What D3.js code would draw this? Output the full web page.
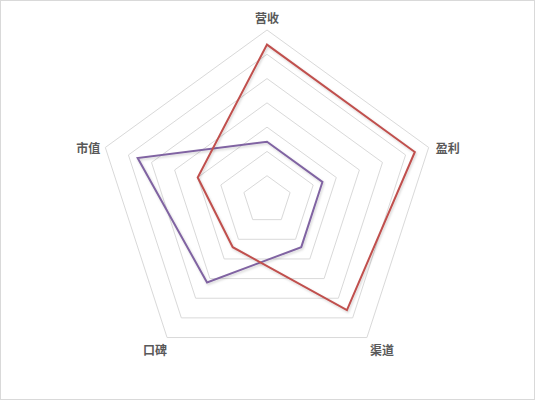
<!DOCTYPE html>
<html><head><meta charset="utf-8">
<script src="https://cdn.jsdelivr.net/npm/d3@7"></script>
<style>
html,body{margin:0;padding:0;background:#fff;}
svg{display:block;}
</style></head>
<body>
<svg id="c" width="535" height="401"></svg>
<script>
const categories = ["营收", "盈利", "渠道", "口碑", "市值"];
const seriesA = [32, 32, 28, 12, 15];   // red
const seriesB = [12, 12, 12, 21, 28];   // purple
const ticks = [5, 10, 15, 20, 25, 30, 35];

const W = 535, H = 401, cx = 267, cy = 200, R = 170;
const svg = d3.select("#c");
svg.append("rect").attr("x",0.5).attr("y",0.5).attr("width",W-1).attr("height",H-2)
  .attr("fill","#fff").attr("stroke","#d9d9d9");

const r = d3.scaleLinear().domain([0, 35]).range([0, R]);
const ang = d3.scalePoint().domain(categories).range([0, 2*Math.PI*(4/5)]);
const pt = (c, v) => { const a = ang(c); return [cx + r(v)*Math.sin(a), cy - r(v)*Math.cos(a)]; };

const g = svg.append("g");
ticks.forEach(t => {
  g.append("path")
    .attr("d", d3.line()(categories.map(c => pt(c, t))) + "Z")
    .attr("fill","none").attr("stroke","#d9d9d9").attr("stroke-width",1);
});

const defs = svg.append("defs");
const f = defs.append("filter").attr("id","sh").attr("x","-10%").attr("y","-10%").attr("width","120%").attr("height","120%");
f.append("feDropShadow").attr("dx",1).attr("dy",1.5).attr("stdDeviation",1).attr("flood-color","#000").attr("flood-opacity",0.18);

function drawSeries(vals, color){
  g.append("path")
    .attr("d", d3.line()(categories.map((c,i) => pt(c, vals[i]))) + "Z")
    .attr("fill","none").attr("stroke",color).attr("stroke-width",2)
    .attr("stroke-linejoin","miter").attr("filter","url(#sh)");
}
drawSeries(seriesB, "#8064a2");
drawSeries(seriesA, "#c0504d");

const offs = [
  {dx:0, dy:-13, anchor:"middle"},
  {dx:7, dy:0, anchor:"start"},
  {dx:3, dy:12, anchor:"start"},
  {dx:0, dy:12, anchor:"end"},
  {dx:-5, dy:0, anchor:"end"}
];
categories.forEach((c,i) => {
  const [x,y] = pt(c, 35);
  svg.append("text").attr("x", x+offs[i].dx).attr("y", y+offs[i].dy)
    .attr("text-anchor", offs[i].anchor).attr("dominant-baseline","central")
    .attr("font-family","'Noto Sans CJK SC', sans-serif").attr("font-size",12)
    .attr("font-weight",700).attr("fill","#595959").text(c);
});
</script>
</body></html>
